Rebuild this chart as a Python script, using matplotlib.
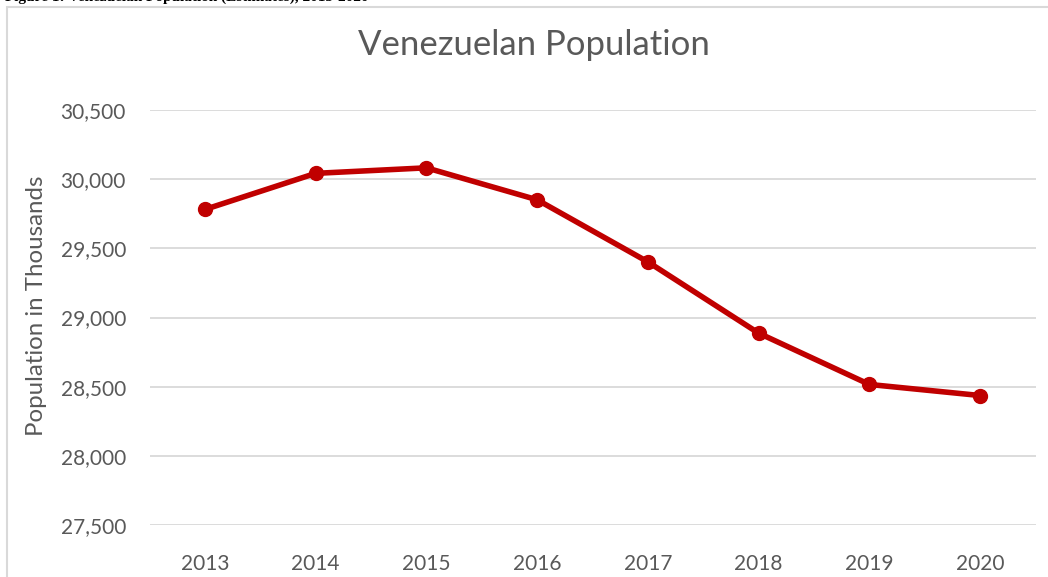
import matplotlib

matplotlib.use("Agg")
import matplotlib.pyplot as plt  # noqa: E402
from matplotlib.patches import Rectangle  # noqa: E402
from matplotlib.ticker import FuncFormatter  # noqa: E402

years = ["2013", "2014", "2015", "2016", "2017", "2018", "2019", "2020"]
population = [29781, 30042, 30082, 29851, 29402, 28887, 28516, 28436]
y_ticks = [27500, 28000, 28500, 29000, 29500, 30000, 30500]

GRAY = "#595959"
RED = "#C00000"

plt.rcParams["font.family"] = ["Lato", "DejaVu Sans"]

fig = plt.figure(figsize=(10.48, 5.77), dpi=100)
W, H = 1048, 577

# chart frame (light gray box, cut off at right/bottom)
fig.patches.append(Rectangle((7 / W, -0.05), 1.1, 1 - 7 / H + 0.05,
                             transform=fig.transFigure, fill=False,
                             edgecolor="#D9D9D9", linewidth=1.5))

# caption line cut off at the top of the screenshot (only descenders show)
fig.text(5 / W, 1 - 0.5 / H, "Figure 1: Venezuelan Population (Estimates), 2013-2020",
         fontsize=11, fontweight="bold", family="Liberation Serif",
         ha="left", va="baseline", color="black")

ax = fig.add_axes([149.5 / W, 1 - 525 / H, 886 / W, 415 / H])
x = list(range(len(years)))
ax.plot(x, population, color=RED, linewidth=4, marker="o", markersize=10,
        solid_capstyle="round", zorder=3, clip_on=False)

ax.set_xlim(-0.5, len(years) - 0.5)
ax.set_ylim(27500, 30500)
ax.set_xticks(x)
ax.set_xticklabels(years)
ax.set_yticks(y_ticks)
ax.yaxis.set_major_formatter(FuncFormatter(lambda v, p: f"{int(v):,}"))
ax.grid(axis="y", color="#D9D9D9", linewidth=1.3)
ax.set_axisbelow(True)
for s in ax.spines.values():
    s.set_visible(False)
ax.tick_params(axis="both", length=0, labelsize=15, labelcolor=GRAY)
ax.tick_params(axis="x", pad=21)
ax.tick_params(axis="y", pad=17)

ax.set_ylabel("Population in Thousands", fontsize=17.3, color=GRAY)
ax.yaxis.set_label_coords(-0.128, 0.528)
ax.yaxis.label.set_va("center")
fig.text(534 / W, 1 - 45 / H, "Venezuelan Population", fontsize=25,
         color=GRAY, ha="center", va="center")

fig.savefig("out.png", dpi=100)
plt.close(fig)
